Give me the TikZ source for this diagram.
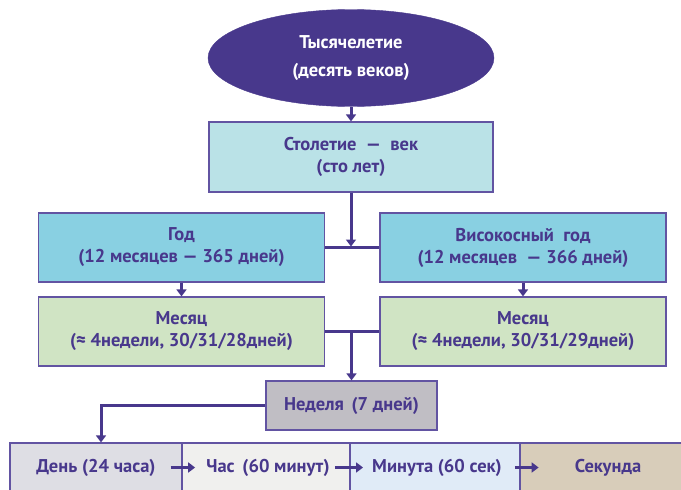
\documentclass[tikz,border=0pt]{standalone}
\usepackage{fontspec}
\setmainfont{PT Sans}
\usetikzlibrary{shapes.geometric,arrows.meta}

\definecolor{ink}{RGB}{72,56,140}
\definecolor{edge}{RGB}{98,84,162}
\definecolor{centfill}{RGB}{186,226,231}
\definecolor{yearfill}{RGB}{137,208,226}
\definecolor{monthfill}{RGB}{208,228,196}
\definecolor{weekfill}{RGB}{192,190,196}
\definecolor{dayfill}{RGB}{222,222,228}
\definecolor{hourfill}{RGB}{240,240,238}
\definecolor{minfill}{RGB}{224,235,247}
\definecolor{secfill}{RGB}{216,205,186}

\begin{document}
\begin{tikzpicture}[x=1pt,y=-1pt,
  unitbox/.style={rectangle,draw=edge,line width=1.2pt,text=ink,
                  font=\fontsize{18.5}{22}\selectfont\bfseries,align=center,inner sep=0pt},
  bigbox/.style={unitbox,minimum width=286pt,minimum height=69pt},
  rowbox/.style={unitbox,minimum width=170pt,minimum height=49pt},
  rowtext/.style={text=ink,font=\fontsize{18.5}{22}\selectfont\bfseries,inner sep=0pt},
  arr/.style={-{Triangle[width=10pt,length=7pt]},draw=ink,line width=3pt},
  link/.style={draw=ink,line width=3pt},
]
\useasboundingbox (0,0) rectangle (681,490);

% Top: millennium and century
\node[ellipse,fill=ink,draw=ink,minimum width=286pt,minimum height=97pt,inner sep=0pt,
      text=white,font=\fontsize{18.5}{22}\selectfont\bfseries,align=center] (mill) at (351,58)
  {Тысячелетие\\[6pt](десять веков)};
\node[bigbox,fill=centfill,minimum width=284pt,minimum height=70pt] (cent) at (351,157)
  {Столетие \ — \ век\\(сто лет)};
\draw[arr] (mill) -- (cent);

% Years
\node[bigbox,fill=yearfill] (year) at (181.5,247.5)
  {Год\\(12 месяцев — 365 дней)};
\node[bigbox,fill=yearfill] (leap) at (523,247.5)
  {Високосный \ год\\(12 месяцев \ — 366 дней)};
\coordinate (j1) at (cent.south |- year.east);
\draw[link] (year.east) -- (leap.west);
\draw[arr,shorten >=1pt] (cent.south) -- (j1);

% Months
\node[bigbox,fill=monthfill] (month) at (181.5,331.5)
  {Месяц\\(≈ 4недели, 30/31/28дней)};
\node[bigbox,fill=monthfill] (leapmonth) at (523,331.5)
  {Месяц\\(≈ 4недели, 30/31/29дней)};
\draw[arr] (year) -- (month);
\draw[arr] (leap) -- (leapmonth);

% Week
\node[unitbox,fill=weekfill,minimum width=171pt,minimum height=49pt] (week) at (351.5,405.5)
  {Неделя \,(7 дней)};
\coordinate (j2) at (week.north |- month.east);
\draw[link] (month.east) -- (leapmonth.west);
\draw[arr] (j2) -- (week.north);

% Bottom row
\node[rowbox,fill=dayfill,minimum width=172pt] (daybox) at (96,467.5) {};
\node[rowbox,fill=hourfill,minimum width=168pt] (hourbox) at (266,467.5) {};
\node[rowbox,fill=minfill] (minbox) at (435,467.5) {};
\node[rowbox,fill=secfill] (secbox) at (605,467.5) {};
\node[rowtext] (day) at (96,467.5) {День (24 часа)};
\node[rowtext] (hour) at (268,467.5) {Час \,(60 минут)};
\node[rowtext] (minute) at (437,467.5) {Минута (60 сек)};
\node[rowtext] (second) at (608,467.5) {Секунда};
\draw[arr] (week.west) -| ([xshift=5pt]daybox.north);
\draw[arr,shorten <=15pt,shorten >=11pt] (day) -- (hour);
\draw[arr,shorten <=5pt,shorten >=9pt] (hour) -- (minute);
\draw[arr,shorten <=13pt,shorten >=36pt] (minute) -- (second);

\end{tikzpicture}
\end{document}
